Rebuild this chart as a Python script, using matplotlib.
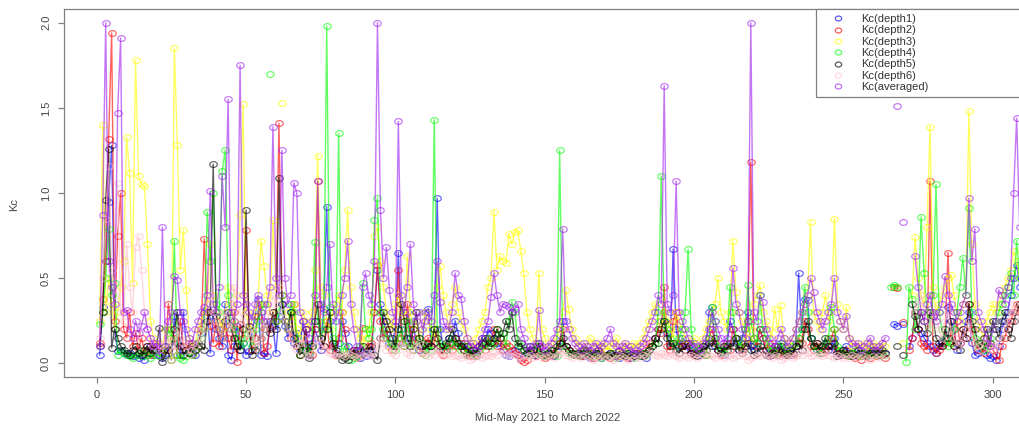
import numpy as np
import matplotlib
matplotlib.use("Agg")
import matplotlib.pyplot as plt
from matplotlib.path import Path
from matplotlib.lines import Line2D

plt.rcParams['font.family'] = ['Liberation Sans', 'DejaVu Sans']

# Daily Kc values, day 1 .. 310 (None = missing)
kc_depth1 = [
    0.05, 0.33, 0.60, 0.95, 1.28, 0.20, 0.07, 0.08, 0.06, 0.05,
    0.06, 0.04, 0.05, 0.03, 0.04, 0.02, 0.06, 0.10, 0.05, 0.08,
    0.05, 0.03, 0.10, 0.06, 0.02, 0.28, 0.12, 0.05, 0.30, 0.10,
    0.08, 0.06, 0.05, 0.12, 0.18, 0.30, 0.32, 0.06, 0.28, 0.20,
    0.15, 0.10, 0.35, 0.05, 0.02, 0.10, 0.22, 0.08, 0.12, 0.05,
    0.07, 0.18, 0.28, 0.38, 0.05, 0.06, 0.04, 0.25, 0.22, 0.06,
    0.28, 0.35, 0.22, 0.15, 0.30, 0.12, 0.18, 0.08, 0.25, 0.10,
    0.05, 0.12, 0.20, 0.15, 0.08, 0.32, 0.92, 0.25, 0.10, 0.06,
    0.12, 0.25, 0.18, 0.10, 0.05, 0.08, 0.04, 0.03, 0.06, 0.04,
    0.05, 0.08, 0.30, 0.55, 0.35, 0.25, 0.18, 0.12, 0.10, 0.22,
    0.65, 0.20, 0.12, 0.30, 0.15, 0.25, 0.10, 0.08, 0.12, 0.30,
    0.32, 0.10, 0.20, 0.97, 0.20, 0.10, 0.08, 0.15, 0.12, 0.25,
    0.18, 0.10, 0.12, 0.05, 0.08, 0.06, 0.04, 0.10, 0.15, 0.12,
    0.20, 0.18, 0.15, 0.12, 0.10, 0.08, 0.05, 0.04, 0.06, 0.08,
    0.05, 0.03, 0.04, 0.06, 0.08, 0.05, 0.04, 0.10, 0.05, 0.04,
    0.05, 0.06, 0.04, 0.08, 0.10, 0.25, 0.10, 0.08, 0.06, 0.05,
    0.05, 0.06, 0.04, 0.05, 0.03, 0.06, 0.05, 0.04, 0.03, 0.05,
    0.04, 0.06, 0.05, 0.04, 0.03, 0.05, 0.04, 0.06, 0.03, 0.04,
    0.05, 0.04, 0.06, 0.03, 0.08, 0.10, 0.15, 0.20, 0.25, 0.30,
    0.18, 0.12, 0.67, 0.20, 0.10, 0.15, 0.12, 0.10, 0.08, 0.06,
    0.08, 0.05, 0.10, 0.12, 0.30, 0.33, 0.10, 0.08, 0.06, 0.05,
    0.10, 0.25, 0.20, 0.12, 0.08, 0.15, 0.20, 0.30, 0.10, 0.08,
    0.12, 0.20, 0.15, 0.08, 0.06, 0.05, 0.10, 0.08, 0.12, 0.06,
    0.08, 0.05, 0.06, 0.10, 0.53, 0.20, 0.38, 0.37, 0.15, 0.10,
    0.08, 0.06, 0.10, 0.12, 0.08, 0.10, 0.15, 0.06, 0.05, 0.08,
    0.10, 0.05, 0.06, 0.04, 0.08, 0.05, 0.06, 0.04, 0.10, 0.05,
    0.06, 0.08, 0.05, 0.06, None, None, 0.23, 0.22, None, 0.23,
    None, 0.10, 0.15, 0.30, 0.20, 0.18, 0.15, 0.12, 0.10, 0.08,
    0.06, 0.10, 0.12, 0.15, 0.33, 0.25, 0.20, 0.08, 0.12, 0.15,
    0.25, 0.30, 0.12, 0.05, 0.06, 0.08, 0.10, 0.05, 0.03, 0.04,
    0.02, 0.10, 0.20, 0.25, 0.30, 0.40, 0.50, 0.58, 0.45, 0.35,
]

kc_depth2 = [
    0.12, 0.38, 0.60, 1.32, 1.94, 0.25, 0.75, 1.00, 0.20, 0.15,
    0.30, 0.10, 0.18, 0.08, 0.15, 0.06, 0.10, 0.05, 0.12, 0.08,
    0.10, 0.06, 0.08, 0.35, 0.20, 0.15, 0.05, 0.25, 0.10, 0.08,
    0.12, 0.05, 0.08, 0.10, 0.20, 0.73, 0.30, 0.22, 0.12, 0.25,
    0.10, 0.18, 0.22, 0.15, 0.08, 0.30, 0.01, 0.23, 0.15, 0.78,
    0.20, 0.08, 0.15, 0.28, 0.35, 0.06, 0.10, 0.20, 0.30, 0.25,
    1.41, 0.40, 0.25, 0.20, 0.15, 0.35, 0.10, 0.05, 0.12, 0.20,
    0.08, 0.05, 0.20, 1.07, 0.15, 0.10, 0.25, 0.08, 0.12, 0.05,
    0.15, 0.30, 0.20, 0.06, 0.04, 0.08, 0.03, 0.05, 0.21, None,
    0.10, 0.12, 0.30, 0.58, 0.25, 0.15, 0.20, 0.10, 0.08, 0.12,
    0.55, 0.15, 0.10, 0.35, 0.20, 0.08, 0.15, 0.10, 0.06, 0.12,
    0.15, 0.10, 0.12, 0.20, 0.08, 0.05, 0.10, 0.12, 0.08, 0.15,
    0.10, 0.12, 0.08, 0.06, 0.04, 0.08, 0.05, 0.10, 0.12, 0.08,
    0.15, 0.12, 0.20, 0.10, 0.15, 0.08, 0.12, 0.10, 0.08, 0.06,
    0.05, 0.02, 0.01, 0.02, 0.08, 0.06, 0.04, 0.10, 0.05, 0.03,
    0.05, 0.04, 0.06, 0.08, 0.12, 0.20, 0.10, 0.08, 0.06, 0.05,
    0.06, 0.04, 0.05, 0.08, 0.06, 0.03, 0.05, 0.04, 0.06, 0.05,
    0.05, 0.03, 0.06, 0.05, 0.04, 0.06, 0.05, 0.03, 0.04, 0.06,
    0.04, 0.06, 0.05, 0.08, 0.12, 0.10, 0.15, 0.20, 0.18, 0.45,
    0.10, 0.08, 0.25, 0.30, 0.12, 0.10, 0.08, 0.12, 0.06, 0.05,
    0.08, 0.06, 0.10, 0.05, 0.15, 0.20, 0.12, 0.08, 0.05, 0.10,
    0.12, 0.08, 0.20, 0.15, 0.10, 0.08, 0.12, 0.25, 1.18, 0.15,
    0.10, 0.20, 0.15, 0.08, 0.12, 0.05, 0.10, 0.06, 0.08, 0.05,
    0.06, 0.08, 0.05, 0.10, 0.15, 0.12, 0.25, 0.20, 0.10, 0.08,
    0.12, 0.10, 0.06, 0.08, 0.10, 0.15, 0.20, 0.08, 0.06, 0.05,
    0.08, 0.04, 0.06, 0.03, 0.05, 0.02, 0.04, 0.06, 0.03, 0.05,
    0.04, 0.06, 0.05, 0.03, None, None, 0.45, 0.44, None, 0.24,
    None, 0.08, 0.15, 0.30, 0.20, 0.12, 0.10, 0.08, 1.07, 0.10,
    0.06, 0.08, 0.10, 0.12, 0.65, 0.15, 0.10, 0.25, 0.12, 0.20,
    0.15, 0.35, 0.20, 0.12, 0.08, 0.10, 0.06, 0.12, 0.10, 0.08,
    0.05, 0.02, 0.10, 0.15, 0.20, 0.25, 0.30, 0.35, 0.30, 0.25,
]

kc_depth3 = [
    0.25, 1.40, 0.30, 0.50, 0.35, 0.20, 0.30, 0.45, 0.60, 1.33,
    1.12, 0.47, 1.78, 1.10, 1.05, 1.04, 0.70, 0.25, 0.15, 0.10,
    0.12, 0.08, 0.20, 0.15, 0.02, 1.85, 1.28, 0.55, 0.78, 0.43,
    0.15, 0.10, 0.12, 0.20, 0.25, 0.30, 0.35, 0.70, 0.40, 0.30,
    0.25, 0.20, 0.30, 0.45, 0.35, 0.25, 0.40, 0.87, 1.52, 0.30,
    0.20, 0.25, 0.30, 0.35, 0.72, 0.57, 0.40, 0.30, 0.84, 0.45,
    None, 1.53, None, 0.30, 0.25, 0.35, 0.20, 0.15, 0.30, 0.25,
    0.20, 0.30, 0.55, 1.22, 0.45, 0.40, 0.25, 0.20, 0.30, 0.35,
    0.40, 0.30, 0.55, 0.90, 0.45, 0.30, 0.20, 0.15, 0.10, 0.15,
    0.20, 0.30, 0.75, 0.80, 0.60, 0.45, 0.30, 0.25, 0.20, 0.35,
    0.40, 0.30, 0.25, 0.63, 0.30, 0.20, 0.25, 0.15, 0.20, 0.30,
    0.25, 0.20, 0.15, 0.45, 0.57, 0.40, 0.30, 0.20, 0.35, 0.45,
    0.30, 0.25, 0.20, 0.15, 0.12, 0.10, 0.15, 0.20, 0.25, 0.30,
    0.45, 0.50, 0.89, 0.55, 0.63, 0.60, 0.59, 0.76, 0.70, 0.77,
    0.78, 0.66, 0.53, 0.30, 0.20, 0.15, 0.10, 0.53, 0.20, 0.15,
    0.10, 0.08, 0.12, 0.15, 0.20, 0.30, 0.43, 0.32, 0.20, 0.15,
    0.10, 0.12, 0.08, 0.10, 0.15, 0.12, 0.10, 0.08, 0.12, 0.10,
    0.08, 0.10, 0.12, 0.15, 0.10, 0.08, 0.12, 0.10, 0.08, 0.12,
    0.10, 0.12, 0.15, 0.20, 0.25, 0.30, 0.35, 0.25, 0.20, 0.30,
    0.25, 0.20, 0.15, 0.30, 0.25, 0.20, 0.15, 0.12, 0.10, 0.15,
    0.12, 0.10, 0.15, 0.20, 0.25, 0.30, 0.35, 0.50, 0.30, 0.25,
    0.20, 0.30, 0.72, 0.42, 0.30, 0.25, 0.20, 0.15, 0.20, 0.35,
    0.40, 0.46, 0.30, 0.25, 0.20, 0.15, 0.32, 0.20, 0.34, 0.15,
    0.12, 0.10, 0.15, 0.20, 0.25, 0.30, 0.35, 0.40, 0.83, 0.30,
    0.25, 0.20, 0.30, 0.40, 0.25, 0.30, 0.85, 0.35, 0.25, 0.20,
    0.33, 0.15, 0.10, 0.12, 0.08, 0.10, 0.12, 0.08, 0.10, 0.12,
    0.10, 0.08, 0.12, 0.10, None, None, None, None, None, 0.12,
    None, None, 0.40, 0.74, 0.50, 0.40, 0.35, 0.80, 1.39, 0.45,
    0.30, 0.35, 0.40, 0.45, 0.50, 0.52, 0.40, 0.30, 0.25, 0.35,
    0.40, 1.48, 0.70, 0.35, 0.25, 0.20, 0.15, 0.25, 0.30, 0.35,
    0.30, 0.35, 0.40, 0.45, 0.50, 0.55, 0.66, 0.60, 0.50, 0.40,
]

kc_depth4 = [
    0.23, 0.30, 0.50, 0.79, 0.40, 0.47, 0.05, 0.08, 0.06, 0.05,
    0.04, 0.03, 0.05, 0.06, 0.04, 0.08, 0.05, 0.03, 0.06, 0.05,
    0.04, 0.06, 0.10, 0.20, 0.15, 0.72, 0.05, 0.03, 0.02, 0.04,
    0.06, 0.05, 0.08, 0.10, 0.15, 0.20, 0.89, 0.60, 1.00, 0.35,
    0.30, 1.13, 1.25, 0.40, 0.25, 0.20, 0.15, 0.10, 0.12, 0.20,
    0.15, 0.10, 0.20, 0.25, 0.30, 0.35, None, 1.70, None, 0.25,
    0.30, 0.40, 0.25, 0.20, 0.35, 0.30, 0.15, 0.05, 0.10, 0.08,
    0.06, 0.10, 0.71, 0.25, 0.15, 0.20, 1.98, 0.33, 0.15, 0.08,
    1.35, 0.04, 0.10, 0.06, 0.02, 0.03, 0.04, 0.10, 0.47, 0.20,
    0.15, 0.20, 0.84, 0.97, 0.30, 0.20, 0.15, 0.10, 0.12, 0.08,
    0.15, 0.20, 0.10, 0.25, 0.12, 0.08, 0.10, 0.15, 0.12, 0.05,
    0.10, 0.08, 1.43, 0.20, 0.12, 0.10, 0.08, 0.12, 0.15, 0.10,
    0.12, 0.08, 0.10, 0.05, 0.08, 0.06, 0.04, 0.08, 0.10, 0.12,
    0.15, 0.10, 0.12, 0.20, 0.15, 0.18, 0.10, 0.25, 0.36, 0.30,
    0.12, 0.10, 0.08, 0.06, 0.05, 0.08, 0.10, 0.06, 0.05, 0.04,
    0.06, 0.08, 0.05, 0.04, 1.25, 0.10, 0.08, 0.06, 0.05, 0.06,
    0.04, 0.05, 0.06, 0.08, 0.05, 0.04, 0.06, 0.05, 0.03, 0.04,
    0.05, 0.04, 0.06, 0.03, 0.05, 0.04, 0.06, 0.05, 0.04, 0.03,
    0.05, 0.04, 0.06, 0.05, 0.08, 0.10, 0.12, 0.30, 1.10, 0.25,
    0.20, 0.15, 0.12, 0.10, 0.15, 0.20, 0.30, 0.67, 0.20, 0.10,
    0.08, 0.06, 0.10, 0.05, 0.15, 0.33, 0.25, 0.10, 0.08, 0.06,
    0.10, 0.45, 0.30, 0.15, 0.10, 0.12, 0.20, 0.46, 0.25, 0.15,
    0.12, 0.40, 0.20, 0.15, 0.10, 0.08, 0.06, 0.10, 0.12, 0.08,
    0.06, 0.08, 0.10, 0.12, 0.15, 0.20, 0.45, 0.30, 0.15, 0.10,
    0.08, 0.06, 0.10, 0.12, 0.15, 0.33, 0.20, 0.10, 0.08, 0.06,
    0.05, 0.04, 0.06, 0.08, 0.05, 0.04, 0.06, 0.05, 0.04, 0.06,
    0.05, 0.04, 0.06, 0.05, None, 0.45, 0.46, 0.45, None, None,
    0.01, 0.45, 0.38, 0.20, 0.30, 0.86, 0.53, 0.30, 0.20, 0.40,
    1.05, 0.30, 0.20, 0.15, 0.10, 0.12, 0.20, 0.30, 0.45, 0.62,
    0.40, 0.91, 0.30, 0.15, 0.10, 0.12, 0.08, 0.10, 0.15, 0.20,
    0.25, 0.30, 0.35, 0.40, 0.45, 0.53, 0.40, 0.72, 0.50, 0.40,
]

kc_depth5 = [
    0.10, 0.30, 0.96, 1.26, 0.09, 0.20, 0.15, 0.10, 0.08, 0.06,
    0.05, 0.08, 0.10, 0.06, 0.05, 0.08, 0.10, 0.06, 0.08, 0.10,
    0.21, 0.01, 0.05, 0.08, 0.10, 0.20, 0.30, 0.10, 0.05, 0.08,
    0.06, 0.10, 0.08, 0.12, 0.10, 0.08, 0.25, 0.30, 1.17, 0.28,
    0.20, 0.15, 0.25, 0.30, 0.20, 0.15, 0.10, 0.08, 0.20, 0.90,
    0.22, 0.05, 0.08, 0.10, 0.15, 0.20, 0.25, 0.18, 0.30, 0.20,
    1.09, 0.35, 0.25, 0.20, 0.30, 0.15, 0.10, 0.05, 0.08, 0.20,
    0.03, 0.10, 0.25, 0.35, 0.15, 0.10, 0.20, 0.30, 0.12, 0.08,
    0.05, 0.02, 0.03, 0.02, 0.04, 0.06, 0.08, 0.05, 0.10, 0.06,
    0.08, 0.10, 0.05, 0.02, 0.15, 0.30, 0.25, 0.20, 0.15, 0.10,
    0.20, 0.35, 0.25, 0.15, 0.10, 0.20, 0.30, 0.15, 0.10, 0.08,
    0.12, 0.10, 0.20, 0.15, 0.10, 0.08, 0.12, 0.15, 0.20, 0.15,
    0.12, 0.10, 0.08, 0.10, 0.05, 0.08, 0.06, 0.10, 0.12, 0.15,
    0.10, 0.12, 0.15, 0.20, 0.15, 0.18, 0.25, 0.20, 0.30, 0.15,
    0.10, 0.12, 0.08, 0.06, 0.10, 0.08, 0.05, 0.12, 0.06, 0.05,
    0.06, 0.08, 0.05, 0.10, 0.12, 0.15, 0.10, 0.08, 0.06, 0.05,
    0.06, 0.05, 0.08, 0.06, 0.04, 0.05, 0.06, 0.08, 0.05, 0.04,
    0.05, 0.06, 0.04, 0.05, 0.07, 0.05, 0.04, 0.06, 0.05, 0.04,
    0.06, 0.05, 0.04, 0.06, 0.08, 0.10, 0.15, 0.12, 0.20, 0.25,
    0.15, 0.10, 0.12, 0.08, 0.06, 0.10, 0.08, 0.12, 0.06, 0.05,
    0.04, 0.06, 0.10, 0.08, 0.12, 0.10, 0.15, 0.08, 0.06, 0.10,
    0.08, 0.12, 0.10, 0.15, 0.08, 0.06, 0.10, 0.12, 0.08, 0.05,
    0.06, 0.10, 0.08, 0.05, 0.04, 0.06, 0.08, 0.05, 0.10, 0.06,
    0.05, 0.08, 0.06, 0.10, 0.12, 0.08, 0.20, 0.25, 0.15, 0.10,
    0.12, 0.08, 0.10, 0.15, 0.10, 0.08, 0.12, 0.04, 0.06, 0.08,
    0.05, 0.06, 0.04, 0.05, 0.08, 0.06, 0.04, 0.05, 0.06, 0.08,
    0.06, 0.05, 0.08, 0.06, None, None, None, 0.10, None, 0.05,
    None, None, 0.35, 0.28, 0.20, 0.30, 0.25, 0.18, 0.30, 0.28,
    0.15, 0.12, 0.10, 0.20, 0.15, 0.25, 0.10, 0.12, 0.08, 0.20,
    0.15, 0.35, 0.25, 0.20, 0.12, 0.10, 0.15, 0.20, 0.12, 0.25,
    0.20, 0.15, 0.25, 0.30, 0.20, 0.15, 0.25, 0.30, 0.35, 0.30,
]

kc_depth6 = [
    0.15, 0.50, 0.85, 1.16, 0.55, 0.40, 1.06, 0.30, 0.25, 0.70,
    0.45, 0.30, 0.68, 0.75, 0.55, 0.30, 0.20, 0.15, 0.10, 0.12,
    0.08, 0.10, 0.12, 0.15, 0.10, 0.08, 0.20, 0.15, 0.12, 0.10,
    0.05, 0.08, 0.10, 0.12, 0.15, 0.20, 0.35, 0.40, 0.30, 0.25,
    0.20, 0.15, 0.30, 0.25, 0.20, 0.45, 0.35, 0.30, 0.25, 0.20,
    0.15, 0.20, 0.12, 0.10, 0.15, 0.20, 0.25, 0.30, 0.40, 0.35,
    0.45, 0.30, 0.25, 0.20, 0.15, 0.10, 0.08, 0.12, 0.15, 0.05,
    0.04, 0.06, 0.10, 0.15, 0.12, 0.08, 0.10, 0.06, 0.05, 0.04,
    0.06, 0.05, 0.04, 0.06, 0.05, 0.04, 0.03, 0.05, 0.04, 0.06,
    0.05, 0.04, 0.06, 0.10, 0.15, 0.12, 0.08, 0.10, 0.06, 0.05,
    0.08, 0.10, 0.12, 0.06, 0.05, 0.08, 0.10, 0.12, 0.06, 0.05,
    0.04, 0.06, 0.05, 0.08, 0.06, 0.04, 0.05, 0.06, 0.04, 0.05,
    0.04, 0.03, 0.05, 0.04, 0.02, 0.03, 0.04, 0.05, 0.03, 0.04,
    0.05, 0.04, 0.06, 0.05, 0.08, 0.06, 0.05, 0.04, 0.06, 0.05,
    0.04, 0.03, 0.02, 0.04, 0.05, 0.03, 0.04, 0.05, 0.03, 0.04,
    0.05, 0.04, 0.03, 0.05, 0.06, 0.08, 0.05, 0.04, 0.03, 0.05,
    0.04, 0.03, 0.05, 0.04, 0.03, 0.02, 0.04, 0.03, 0.05, 0.04,
    0.03, 0.04, 0.02, 0.03, 0.05, 0.04, 0.03, 0.02, 0.04, 0.03,
    0.04, 0.03, 0.05, 0.04, 0.06, 0.08, 0.05, 0.04, 0.06, 0.05,
    0.04, 0.06, 0.05, 0.04, 0.03, 0.05, 0.04, 0.03, 0.05, 0.04,
    0.03, 0.04, 0.05, 0.06, 0.05, 0.04, 0.03, 0.05, 0.04, 0.03,
    0.04, 0.05, 0.03, 0.04, 0.05, 0.06, 0.04, 0.02, 0.03, 0.04,
    0.05, 0.04, 0.06, 0.05, 0.04, 0.03, 0.05, 0.04, 0.02, 0.03,
    0.04, 0.05, 0.03, 0.04, 0.06, 0.05, 0.08, 0.06, 0.04, 0.05,
    0.06, 0.05, 0.04, 0.06, 0.05, 0.04, 0.03, 0.05, 0.04, 0.03,
    0.04, 0.03, 0.05, 0.04, 0.03, 0.05, 0.04, 0.03, 0.02, 0.04,
    0.03, 0.04, 0.03, 0.05, None, None, None, None, None, None,
    None, None, None, 0.30, 0.35, 0.40, 0.30, 0.25, 0.20, 0.30,
    0.28, 0.20, 0.15, 0.25, 0.30, 0.20, 0.15, 0.10, 0.12, 0.15,
    0.20, 0.25, 0.15, 0.12, 0.10, 0.08, 0.12, 0.15, 0.10, 0.08,
    0.10, 0.12, 0.15, 0.20, 0.25, 0.30, 0.35, 0.30, 0.25, 0.20,
]

kc_avg = [
    0.10, 0.87, 2.00, 0.60, 0.45, 0.35, 1.47, 1.91, 0.30, 0.31,
    0.20, 0.15, 0.25, 0.18, 0.22, 0.30, 0.20, 0.15, 0.10, 0.12,
    0.05, 0.80, 0.10, 0.25, 0.30, 0.51, 0.49, 0.30, 0.25, 0.20,
    0.15, 0.12, 0.20, 0.25, 0.30, 0.33, 0.40, 1.01, 0.35, 0.30,
    0.45, 1.10, 0.80, 1.55, 0.30, 0.25, 0.35, 1.75, 0.40, 0.35,
    0.30, 0.25, 0.35, 0.40, 0.30, 0.25, 0.35, 0.45, 1.39, 0.50,
    0.40, 1.25, 0.50, 0.35, 0.40, 1.06, 1.00, 0.30, 0.25, 0.20,
    0.15, 0.25, 0.40, 1.07, 0.35, 0.30, 0.45, 0.70, 0.35, 0.25,
    0.30, 0.40, 0.50, 0.72, 0.35, 0.20, 0.10, 0.08, 0.45, 0.53,
    0.40, 0.35, 0.60, 2.00, 0.90, 0.50, 0.68, 0.43, 0.30, 0.25,
    1.42, 0.40, 0.30, 0.45, 0.70, 0.35, 0.25, 0.30, 0.20, 0.25,
    0.30, 0.25, 0.40, 0.60, 0.36, 0.25, 0.20, 0.22, 0.30, 0.53,
    0.40, 0.38, 0.25, 0.15, 0.10, 0.12, 0.08, 0.10, 0.15, 0.20,
    0.25, 0.39, 0.53, 0.40, 0.30, 0.35, 0.34, 0.33, 0.30, 0.32,
    0.35, 0.20, 0.15, 0.10, 0.08, 0.10, 0.12, 0.31, 0.10, 0.08,
    0.10, 0.12, 0.15, 0.20, 0.25, 0.79, 0.25, 0.20, 0.15, 0.12,
    0.10, 0.08, 0.12, 0.10, 0.08, 0.10, 0.12, 0.08, 0.10, 0.12,
    0.15, 0.20, 0.12, 0.10, 0.08, 0.10, 0.12, 0.08, 0.10, 0.06,
    0.08, 0.10, 0.12, 0.15, 0.20, 0.25, 0.30, 0.40, 0.35, 1.63,
    0.35, 0.30, 0.40, 1.07, 0.30, 0.25, 0.20, 0.15, 0.10, 0.12,
    0.10, 0.08, 0.12, 0.15, 0.20, 0.30, 0.25, 0.20, 0.15, 0.12,
    0.15, 0.20, 0.56, 0.35, 0.30, 0.20, 0.15, 0.25, 2.00, 0.30,
    0.25, 0.40, 0.36, 0.20, 0.15, 0.12, 0.10, 0.15, 0.20, 0.15,
    0.10, 0.12, 0.15, 0.20, 0.25, 0.30, 0.35, 0.40, 0.50, 0.42,
    0.30, 0.25, 0.20, 0.25, 0.30, 0.35, 0.50, 0.30, 0.25, 0.20,
    0.28, 0.15, 0.12, 0.10, 0.12, 0.08, 0.10, 0.12, 0.15, 0.10,
    0.08, 0.10, 0.12, 0.15, None, None, None, 1.51, None, 0.83,
    None, None, None, 0.63, 0.45, 0.30, 0.25, 0.35, 0.40, 0.30,
    0.25, 0.30, 0.35, 0.51, 0.40, 0.35, 0.30, 0.25, 0.30, 0.35,
    0.40, 0.97, 0.60, 0.79, 0.30, 0.25, 0.20, 0.15, 0.10, 0.20,
    0.25, 0.43, 0.40, 0.35, 0.45, 0.50, 1.00, 1.44, 0.80, 0.60,
]

labels = ["Kc(depth1)", "Kc(depth2)", "Kc(depth3)", "Kc(depth4)",
          "Kc(depth5)", "Kc(depth6)", "Kc(averaged)"]
colors = ["#0000FF", "#FF0000", "#FFFF00", "#00FF00", "#000000", "#FFC0CB", "#A020F0"]
series = [kc_depth1, kc_depth2, kc_depth3, kc_depth4, kc_depth5, kc_depth6, kc_avg]
days = np.arange(1, len(kc_avg) + 1)

# slightly wide open circle (the reference picture is stretched sideways)
t = np.linspace(0, 2 * np.pi, 41)
oval = Path(np.column_stack([1.3 * np.cos(t), np.sin(t)]))

fig = plt.figure(figsize=(10.19, 4.25), dpi=100)
ax = fig.add_axes([0.0631, 0.1132, 0.9466, 0.8654])

for vals, col, lab in zip(series, colors, labels):
    y = np.array(vals, dtype=float)
    ax.plot(days, y, color=col, alpha=0.62, lw=1.0, marker=oval, ms=5.4,
            mfc="none", mec=col, mew=0.85, label=lab)

ax.set_xlim(-10.85, 312.1)
ax.set_ylim(-0.08, 2.08)
ax.set_xticks([0, 50, 100, 150, 200, 250, 300])
ax.set_yticks([0.0, 0.5, 1.0, 1.5, 2.0])
ax.set_yticklabels(["0.0", "0.5", "1.0", "1.5", "2.0"], rotation=90, va="center")

gray = "#808080"
for sp in ax.spines.values():
    sp.set_color(gray)
    sp.set_linewidth(0.9)
ax.tick_params(axis="both", direction="out", length=4.5, width=0.9, color=gray,
               labelsize=8, labelcolor="#444444")
ax.tick_params(axis="x", pad=5)
ax.tick_params(axis="y", pad=5)

ax.set_xlabel("Mid-May 2021 to March 2022", fontsize=8, color="#444444")
ax.set_ylabel("Kc", fontsize=8, color="#444444")
ax.xaxis.set_label_coords(0.501, -0.112)
ax.xaxis.label.set_va("center")
ax.yaxis.set_label_coords(-0.052, 0.47)
ax.yaxis.label.set_va("center")

handles = [Line2D([], [], ls="none", marker=oval, ms=4.6, mfc="none", mec=c,
                  mew=0.9, alpha=0.65) for c in colors]
leg = ax.legend(handles, labels, loc="upper left", bbox_to_anchor=(0.779, 0.0, 0.221, 1.0),
                mode="expand", borderaxespad=0, fontsize=8, frameon=True, fancybox=False,
                edgecolor=gray, framealpha=1, borderpad=0.45, handlelength=3.1,
                handletextpad=0.55, labelspacing=0.12)
leg.get_frame().set_linewidth(0.9)
for txt in leg.get_texts():
    txt.set_color("#333333")

fig.savefig("out.png", dpi=100)
